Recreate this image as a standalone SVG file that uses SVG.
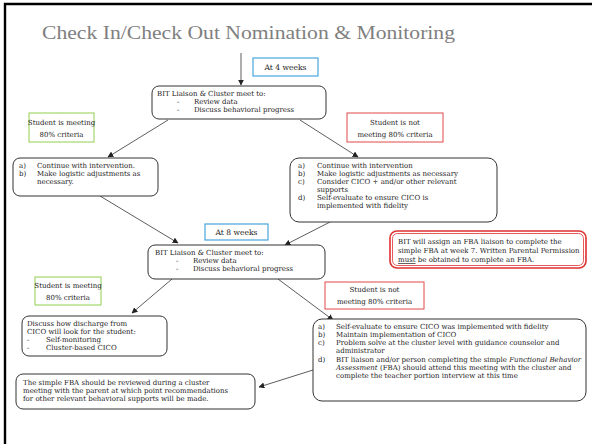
<svg xmlns="http://www.w3.org/2000/svg" width="592" height="444" viewBox="0 0 592 444">
  <defs>
    <marker id="arrow" viewBox="0 0 10 10" refX="9" refY="5" markerWidth="6" markerHeight="6" orient="auto" markerUnits="userSpaceOnUse">
      <path d="M0,0 L10,5 L0,10 Z" fill="#222"/>
    </marker>
    <style>
      .t { font-family: "DejaVu Serif", "Liberation Serif", serif; font-size: 7px; fill: #222; }
      .lbl { font-family: "DejaVu Serif", "Liberation Serif", serif; font-size: 7px; fill: #222; text-anchor: middle; }
      .wk { font-family: "DejaVu Serif", "Liberation Serif", serif; font-size: 7.6px; fill: #222; text-anchor: middle; }
      .box { fill: #fff; stroke: #333; stroke-width: 1; }
      .green { fill: #fff; stroke: #92d050; stroke-width: 1; }
      .red { fill: #fff; stroke: #e04848; stroke-width: 1; }
      .blue { fill: #fff; stroke: #4aa6dc; stroke-width: 1.2; }
      .conn { fill: none; stroke: #333; stroke-width: 0.8; marker-end: url(#arrow); }
    </style>
  </defs>

  <rect width="592" height="444" fill="#fff"/>
  <!-- page frame -->
  <path d="M5,444 V4 H592" fill="none" stroke="#000" stroke-width="2.4"/>

  <text x="42" y="39" font-family="Liberation Serif, serif" font-size="19" fill="#808080" textLength="413" lengthAdjust="spacingAndGlyphs">Check In/Check Out Nomination &amp; Monitoring</text>

  <g id="connectors">
    <path class="conn" d="M241,53 L241,85"/>
    <path class="conn" d="M168,120 L108,157"/>
    <path class="conn" d="M300,120 L358,157"/>
    <path class="conn" d="M100,196 L178,243"/>
    <path class="conn" d="M330,222 L285,245"/>
    <path class="conn" d="M172,279 L132,313"/>
    <path class="conn" d="M278,279 L333,320"/>
    <path class="conn" d="M313,370 L259,387"/>
  </g>

  <g id="week4">
    <rect class="blue" x="253" y="58" width="65" height="18"/>
    <text class="wk" x="285.5" y="70">At 4 weeks</text>
  </g>

  <g id="review1">
    <rect class="box" x="152" y="86" width="174" height="33" rx="7"/>
    <text class="t" x="157" y="96">BIT Liaison &amp; Cluster meet to:</text>
    <text class="t" x="177" y="104">-</text>
    <text class="t" x="194" y="104">Review data</text>
    <text class="t" x="177" y="112">-</text>
    <text class="t" x="194" y="112">Discuss behavioral progress</text>
  </g>

  <g id="meeting1">
    <rect class="green" x="29" y="113" width="65" height="29"/>
    <text class="lbl" x="61.5" y="125">Student is meeting</text>
    <text class="lbl" x="61.5" y="137">80% criteria</text>
  </g>

  <g id="notmeeting1">
    <rect class="red" x="347" y="113" width="96" height="29"/>
    <text class="lbl" x="395" y="125">Student is not</text>
    <text class="lbl" x="395" y="137">meeting 80% criteria</text>
  </g>

  <g id="continue1">
    <rect class="box" x="13" y="158" width="145" height="38" rx="7"/>
    <text class="t" x="19" y="168">a)</text>
    <text class="t" x="37" y="168">Continue with intervention.</text>
    <text class="t" x="19" y="176">b)</text>
    <text class="t" x="37" y="176">Make logistic adjustments as</text>
    <text class="t" x="37" y="184">necessary.</text>
  </g>

  <g id="continue2">
    <rect class="box" x="290" y="158" width="207" height="64" rx="9"/>
    <text class="t" x="298" y="168">a)</text>
    <text class="t" x="317" y="168">Continue with intervention</text>
    <text class="t" x="298" y="176">b)</text>
    <text class="t" x="317" y="176">Make logistic adjustments as necessary</text>
    <text class="t" x="298" y="184">c)</text>
    <text class="t" x="317" y="184">Consider CICO + and/or other relevant</text>
    <text class="t" x="317" y="192">supports</text>
    <text class="t" x="298" y="200">d)</text>
    <text class="t" x="317" y="200">Self-evaluate to ensure CICO is</text>
    <text class="t" x="317" y="208">implemented with fidelity</text>
  </g>

  <g id="week8">
    <rect class="blue" x="205" y="224" width="63" height="16"/>
    <text class="wk" x="236.5" y="235">At 8 weeks</text>
  </g>

  <g id="review2">
    <rect class="box" x="148" y="245" width="177" height="34" rx="7"/>
    <text class="t" x="155" y="255">BIT Liaison &amp; Cluster meet to:</text>
    <text class="t" x="176" y="263">-</text>
    <text class="t" x="193" y="263">Review data</text>
    <text class="t" x="176" y="271">-</text>
    <text class="t" x="193" y="271">Discuss behavioral progress</text>
  </g>

  <g id="fba-note">
    <rect x="390" y="231" width="196" height="37" rx="7" fill="#fff" stroke="#e03030" stroke-width="1.6"/>
    <rect x="392.5" y="233.5" width="191" height="32" rx="5" fill="none" stroke="#e03030" stroke-width="0.8"/>
    <text class="t" x="398" y="244">BIT will assign an FBA liaison to complete the</text>
    <text class="t" x="398" y="253">simple FBA at week 7.  Written Parental Permission</text>
    <text class="t" x="398" y="262"><tspan text-decoration="underline">must</tspan> be obtained to complete an FBA.</text>
  </g>

  <g id="meeting2">
    <rect class="green" x="35" y="277" width="66" height="28"/>
    <text class="lbl" x="68" y="288">Student is meeting</text>
    <text class="lbl" x="68" y="300">80% criteria</text>
  </g>

  <g id="notmeeting2">
    <rect class="red" x="325" y="282" width="99" height="27"/>
    <text class="lbl" x="374.5" y="292">Student is not</text>
    <text class="lbl" x="374.5" y="304">meeting 80% criteria</text>
  </g>

  <g id="discharge">
    <rect class="box" x="22" y="316" width="145" height="40" rx="7"/>
    <text class="t" x="27" y="326">Discuss how discharge from</text>
    <text class="t" x="27" y="334">CICO will look for the student:</text>
    <text class="t" x="27" y="342">-</text>
    <text class="t" x="46" y="342">Self-monitoring</text>
    <text class="t" x="27" y="350">-</text>
    <text class="t" x="46" y="350">Cluster-based CICO</text>
  </g>

  <g id="actions">
    <rect class="box" x="313" y="319" width="273" height="82" rx="9"/>
    <text class="t" x="318" y="329">a)</text>
    <text class="t" x="336" y="329">Self-evaluate to ensure CICO was implemented with fidelity</text>
    <text class="t" x="318" y="337">b)</text>
    <text class="t" x="336" y="337">Maintain implementation of CICO</text>
    <text class="t" x="318" y="345">c)</text>
    <text class="t" x="336" y="345">Problem solve at the cluster level with guidance counselor and</text>
    <text class="t" x="336" y="353">administrator</text>
    <text class="t" x="318" y="362">d)</text>
    <text class="t" x="336" y="362">BIT liaison and/or person completing the simple <tspan font-style="italic">Functional Behavior</tspan></text>
    <text class="t" x="336" y="370"><tspan font-style="italic">Assessment</tspan> (FBA) should attend this meeting with the cluster and</text>
    <text class="t" x="336" y="378">complete the teacher portion interview at this time</text>
  </g>

  <g id="fba-review">
    <rect class="box" x="16" y="374" width="239" height="35" rx="7"/>
    <text class="t" x="23" y="385">The simple FBA should be reviewed during a cluster</text>
    <text class="t" x="23" y="393">meeting with the parent at which point recommendations</text>
    <text class="t" x="23" y="401">for other relevant behavioral supports will be made.</text>
  </g>
</svg>
